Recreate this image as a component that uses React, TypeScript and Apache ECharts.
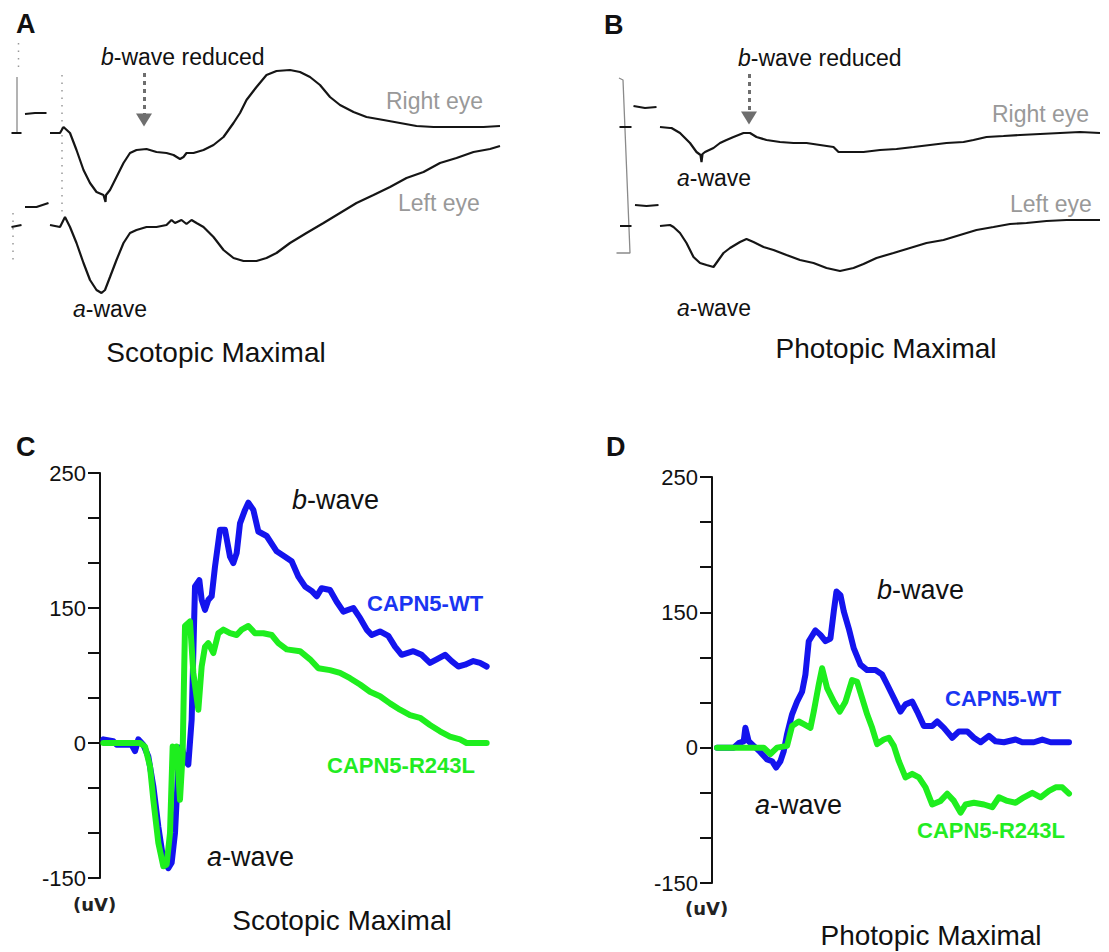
import React, { useEffect, useRef } from 'react';
import * as echarts from 'echarts';

const FONT = '"Liberation Sans", Arial, Helvetica, sans-serif';
const BLUE = '#1414ee';
const GREEN = '#1eee1e';
const BLUE_TXT = '#1a35f2';
const GREEN_TXT = '#22ec22';

// ---------- Panel A (scanned ERG, scotopic): [time ms, amplitude a.u.] ----------
const aRightEye: (number | null)[][] = [
  [0.3, 187], [2.3, 187], [2.4, null],
  [3, 206], [5, 207], [7.3, 207], [7.5, null],
  [8, 187], [10, 187], [10.7, 193], [12, 187], [13.3, 170], [14.7, 150], [16, 137], [17.3, 128],
  [18.7, 125], [19.1, 118], [19.2, 125], [20, 130], [21.3, 143], [22.7, 157], [24, 167],
  [25.3, 170], [27.3, 171], [29.3, 168], [31.3, 167], [32.7, 165], [34, 161], [34.7, 163],
  [35.3, 167], [36.7, 167], [38.7, 170], [40.7, 175], [42.7, 183], [44.7, 197], [46, 207],
  [47.3, 220], [49.3, 233], [51.3, 245], [53.3, 249], [56, 250], [58, 248], [60, 243],
  [62, 235], [64, 223], [66, 215], [68.7, 208], [71.3, 203], [74.7, 200], [78, 197],
  [81.3, 194], [84.7, 193], [88, 193], [91.3, 193], [94.7, 193], [98, 194]
];
const aLeftEye: (number | null)[][] = [
  [0.3, 93], [2.3, 95], [2.4, null],
  [3, 113], [5.3, 113], [7.7, 117], [7.8, null],
  [8, 95], [10, 93], [11, 103], [12, 93], [13.3, 77], [14.7, 57], [16, 40], [17.3, 30],
  [18.3, 27], [19, 30], [20, 43], [21.3, 60], [22.7, 77], [24, 87], [25.3, 90], [27.3, 93],
  [29.3, 93], [31.3, 95], [32.3, 100], [33, 97], [34.3, 100], [35.3, 96], [36.3, 100],
  [37.3, 97], [38.7, 93], [40.7, 83], [42.7, 70], [44.7, 62], [46.7, 59], [49.3, 59],
  [51.3, 62], [53.3, 67], [56, 77], [59.3, 87], [62.7, 97], [66, 107], [69.3, 117],
  [72.7, 125], [76, 133], [79.3, 142], [82.7, 148], [86, 157], [89.3, 162], [92.7, 168],
  [96, 171], [98, 174]
];
const aCalibration = [[1.4, 243], [1.4, 188]];
const aDots1 = [[1.7, 277], [1.7, 247]];
const aDots2 = [[10.4, 245], [10.4, 107]];
const aDots3 = [[0.6, 107], [0.6, 55]];

// ---------- Panel B (scanned ERG, photopic) ----------
const bRightEye: (number | null)[][] = [
  [6.9, 193], [9.3, 193], [9.5, null],
  [9.7, 214], [12, 212], [14.3, 213], [14.5, null],
  [15, 193], [17, 192], [17.3, 192], [19, 187], [21, 177], [22.3, 168], [23.1, 165],
  [23.3, 158], [23.5, 166], [24, 168], [25.7, 172], [27, 177], [28.3, 180], [29.7, 183],
  [31.7, 187], [33, 187], [34.3, 183], [36.3, 180], [39, 178], [41.7, 177], [44.3, 177],
  [47, 175], [49.7, 173], [50.7, 168], [52.3, 168], [55.7, 168], [59, 170], [62.3, 171],
  [65.7, 173], [69, 175], [72.3, 177], [75.7, 178], [77.7, 180], [80.3, 183], [83.7, 184],
  [87, 185], [91, 186], [95, 187], [99, 188], [103, 187]
];
const bLeftEye: (number | null)[][] = [
  [7, 94], [9.3, 94], [9.5, null],
  [10, 115], [12.3, 114], [14.7, 115], [14.8, null],
  [15, 94], [17, 95], [17.7, 93], [19, 87], [20.3, 77], [21.7, 63], [23, 57], [24.3, 55],
  [25.7, 53], [26.7, 60], [27.7, 67], [29, 72], [31, 78], [32.3, 81], [33.7, 78],
  [35.7, 73], [37.7, 70], [40.3, 65], [43, 60], [45.7, 57], [48.3, 52], [51, 49],
  [53.7, 52], [55.7, 56], [58.3, 62], [61.7, 67], [65, 72], [68.3, 77], [71.7, 80],
  [75, 85], [78.3, 90], [81.7, 93], [85, 96], [88.3, 97], [92.3, 99], [96.3, 100], [103, 100]
];
const bCalibration = [[6.3, 67], [9, 67], [7.6, 240], [6.8, 242]];

// ---------- Panel C (scotopic maximal, uV) ----------
const cWT = [
  [1, 4], [4, 2], [5, -2], [9.5, -2], [10.5, -9], [11.5, 4], [13, -2], [14.5, -15], [16, -48],
  [17.5, -93], [19, -130], [20.5, -139], [21.5, -133], [22.5, -100], [23.5, -26], [24.5, -4],
  [25.5, -19], [26.5, -24], [27.5, 26], [28.5, 174], [29.8, 181], [30.5, 159], [31.5, 148],
  [32.5, 159], [33.5, 163], [34.5, 196], [36, 237], [37.5, 237], [39, 207], [40, 200],
  [41, 211], [42, 244], [43.5, 259], [44.5, 267], [46, 259], [47.5, 235], [50, 230],
  [53, 213], [55.5, 207], [57.5, 202], [59.5, 185], [61.5, 174], [63.5, 169], [65, 163],
  [66.5, 172], [69, 170], [71, 157], [73, 146], [76, 150], [78, 139], [80, 126], [81.5, 120],
  [84, 124], [86.5, 119], [88.5, 107], [90.5, 98], [94, 102], [96.5, 98], [99, 89],
  [101, 93], [103.5, 98], [105.5, 91], [107.5, 85], [109.5, 87], [112, 91], [114, 89], [116, 85]
];
const cR243L = [
  [1, 0], [12, 0], [13.5, -4], [15, -26], [16, -63], [17.5, -111], [19, -137], [20, -135],
  [21, -100], [21.8, -4], [22.5, -26], [23, -4], [24, -63], [24.8, -11], [25.5, 130],
  [27, 135], [28, 78], [29.5, 37], [30.5, 85], [31.5, 107], [32.5, 111], [34, 100],
  [35.5, 122], [37, 126], [39, 122], [41, 120], [42.5, 126], [44.5, 130], [46.5, 122],
  [49, 122], [51.5, 120], [53.5, 111], [56, 104], [60, 102], [63, 93], [65.5, 83], [69, 81],
  [72, 78], [75, 72], [78, 65], [81, 57], [84, 52], [87, 44], [90, 37], [93, 31], [96, 28],
  [99, 20], [102, 13], [105, 7], [108, 4], [110, 0], [116, 0]
];

// ---------- Panel D (photopic maximal, uV) ----------
const dWT = [
  [1.5, 0], [6.5, 0], [8, 5], [9.5, 7], [10, 22], [11, 7], [12.5, 2], [14.5, -5], [16.5, -13],
  [18, -15], [19.2, -22], [20.5, -15], [21.5, -4], [22.5, 15], [24, 37], [25.5, 51], [27, 62],
  [28, 81], [29, 118], [31, 130], [32.5, 125], [34, 118], [35.5, 121], [36.5, 151],
  [37.3, 173], [38.5, 169], [39.5, 151], [41, 132], [42.5, 110], [44.5, 92], [46.5, 86],
  [49, 86], [51, 81], [52.5, 70], [54.5, 55], [56.5, 40], [58, 48], [60, 51], [61.5, 40],
  [63.5, 24], [66, 24], [67.5, 29], [69.5, 22], [72, 11], [74, 18], [76.5, 18], [78.5, 11],
  [80.5, 6], [83, 13], [85, 7], [87.5, 6], [91, 9], [93, 6], [96.5, 6], [99, 9], [101.5, 6], [107, 6]
];
const dR243L = [
  [1.5, 0], [8.5, 0], [15.5, 0], [17.5, -7], [19.5, 0], [22.5, 2], [24, 24], [26, 29],
  [27.5, 26], [29.5, 22], [30.5, 40], [32, 70], [33, 88], [34.5, 66], [36.5, 51], [38.3, 40],
  [40, 51], [42, 75], [43.5, 73], [45, 55], [46.5, 37], [48, 22], [49.5, 4], [51.5, 9],
  [53, 11], [54.5, 2], [56, -15], [58, -33], [60, -29], [62, -33], [64, -44], [66, -63],
  [68.5, -59], [70.5, -51], [72.5, -59], [74.5, -72], [76, -63], [78.5, -61], [81.5, -63],
  [84, -66], [86, -55], [88.5, -59], [91, -61], [93.5, -55], [96, -50], [98.5, -55],
  [101, -48], [103, -44], [105, -44], [107, -51]
];

// Tick labels as printed on the figure's y axes (position -> printed label)
const tickValues = [300, 150, 0, -150];
const tickLabels = ['250', '150', '0', '-150'];

const panelLetters = ['A', 'B', 'C', 'D'];
const seriesNames = ['CAPN5-WT', 'CAPN5-R243L'];

function txt(x: number, y: number, text: string, o: any = {}) {
  return {
    type: 'text',
    x,
    y,
    silent: true,
    style: {
      text,
      fontFamily: o.family || FONT,
      fontSize: o.size || 23,
      fontWeight: o.weight || 'normal',
      fill: o.color || '#111',
      align: o.align || 'left',
      verticalAlign: 'middle',
      rich: o.rich,
    },
  };
}

function italicFirst(x: number, y: number, text: string, size: number, align = 'left') {
  return txt(x, y, text, {
    size,
    align,
    rich: {
      i: { fontStyle: 'italic', fontFamily: FONT, fontSize: size, fill: '#111' },
      n: { fontFamily: FONT, fontSize: size, fill: '#111' },
    },
  });
}

function App() {
  const ref = useRef<HTMLDivElement>(null);
  useEffect(() => {
    if (!ref.current) return;
    const chart = echarts.init(ref.current, undefined, { renderer: 'svg' });

    const traceStyle = { color: '#151515', width: 2.2 };
    const scanLine = (data: any, xi: number, extra: any = {}) => ({
      type: 'line', data, xAxisIndex: xi, yAxisIndex: xi, symbol: 'none', silent: true,
      connectNulls: false, lineStyle: traceStyle, ...extra,
    });
    const dotLine = (data: any, xi: number) => ({
      type: 'line', data, xAxisIndex: xi, yAxisIndex: xi, symbol: 'none', silent: true,
      lineStyle: { color: '#999', width: 1.5, type: [1.5, 6] },
    });
    const arrowMark = (t: number, a0: number, a1: number) => ({
      silent: true,
      symbol: ['none', 'triangle'],
      symbolSize: [16, 13],
      label: { show: false },
      lineStyle: { type: [4, 4], color: '#6e6e6e', width: 3 },
      itemStyle: { color: '#6e6e6e' },
      data: [[{ coord: [t, a0] }, { coord: [t, a1] }]],
    });

    const yLabelFmt = (v: number) => {
      const i = tickValues.indexOf(v);
      return i >= 0 ? tickLabels[i] : '';
    };
    const ergY = (gi: number) => ({
      type: 'value', gridIndex: gi, min: -150, max: 300, interval: 50,
      axisLine: { show: true, lineStyle: { color: '#111', width: 2 } },
      axisTick: { show: true, length: 12, lineStyle: { color: '#111', width: 2 } },
      splitLine: { show: false },
      axisLabel: { formatter: yLabelFmt, fontSize: 22, color: '#111', fontFamily: FONT, margin: 14 },
    });
    const thick = (data: any, gi: number, color: string, name: string) => ({
      type: 'line', name, data, xAxisIndex: gi, yAxisIndex: gi, symbol: 'none', silent: true,
      lineStyle: { color, width: 6, join: 'round', cap: 'round' },
    });

    chart.setOption({
      animation: false,
      backgroundColor: '#ffffff',
      grid: [
        { left: 10, top: 40, width: 500, height: 280 },
        { left: 585, top: 40, width: 520, height: 280 },
        { left: 100, top: 473, width: 390, height: 405 },
        { left: 712, top: 477, width: 367, height: 406 },
      ],
      xAxis: [
        { type: 'value', gridIndex: 0, min: 0, max: 100, show: false },
        { type: 'value', gridIndex: 1, min: 0, max: 104, show: false },
        { type: 'value', gridIndex: 2, min: 0, max: 117, show: false },
        { type: 'value', gridIndex: 3, min: 0, max: 110, show: false },
      ],
      yAxis: [
        { type: 'value', gridIndex: 0, min: 0, max: 280, show: false },
        { type: 'value', gridIndex: 1, min: 0, max: 280, show: false },
        ergY(2),
        ergY(3),
      ],
      series: [
        scanLine(aCalibration, 0, { lineStyle: { color: '#8a8a8a', width: 1.3 } }),
        dotLine(aDots1, 0),
        dotLine(aDots2, 0),
        dotLine(aDots3, 0),
        scanLine(aRightEye, 0, { markLine: arrowMark(26.8, 247, 200) }),
        scanLine(aLeftEye, 0),
        scanLine(bCalibration, 1, { lineStyle: { color: '#8a8a8a', width: 1.3 } }),
        scanLine(bRightEye, 1, { markLine: arrowMark(32.8, 246, 202) }),
        scanLine(bLeftEye, 1),
        thick(cWT, 2, BLUE, seriesNames[0]),
        thick(cR243L, 2, GREEN, seriesNames[1]),
        thick(dWT, 3, BLUE, seriesNames[0]),
        thick(dR243L, 3, GREEN, seriesNames[1]),
      ],
      graphic: [
        txt(16, 24, panelLetters[0], { size: 27, weight: 'bold' }),
        txt(604, 25, panelLetters[1], { size: 27, weight: 'bold' }),
        txt(16, 447, panelLetters[2], { size: 27, weight: 'bold' }),
        txt(606, 447, panelLetters[3], { size: 27, weight: 'bold' }),

        italicFirst(101, 57, '{i|b}{n|-wave reduced}', 23),
        txt(386, 101, 'Right eye', { color: '#999' }),
        txt(398, 203, 'Left eye', { color: '#999' }),
        italicFirst(73, 309, '{i|a}{n|-wave}', 23),
        txt(216, 352, 'Scotopic Maximal', { size: 28, align: 'center' }),

        italicFirst(738, 58, '{i|b}{n|-wave reduced}', 23),
        txt(992, 114, 'Right eye', { color: '#999' }),
        italicFirst(677, 178, '{i|a}{n|-wave}', 23),
        txt(1010, 204, 'Left eye', { color: '#999' }),
        italicFirst(677, 308, '{i|a}{n|-wave}', 23),
        txt(886, 348, 'Photopic Maximal', { size: 28, align: 'center' }),

        italicFirst(292, 500, '{i|b}{n|-wave}', 27),
        txt(367, 603, seriesNames[0], { size: 22, weight: 'bold', color: BLUE_TXT }),
        txt(327, 765, seriesNames[1], { size: 22, weight: 'bold', color: GREEN_TXT }),
        italicFirst(207, 857, '{i|a}{n|-wave}', 27),
        txt(73, 904, '(uV)', { size: 18, weight: 'bold', color: '#222', family: '"DejaVu Sans", sans-serif' }),
        txt(342, 920, 'Scotopic Maximal', { size: 28, align: 'center' }),

        italicFirst(877, 590, '{i|b}{n|-wave}', 27),
        txt(945, 698, seriesNames[0], { size: 22, weight: 'bold', color: BLUE_TXT }),
        italicFirst(755, 805, '{i|a}{n|-wave}', 27),
        txt(917, 830, seriesNames[1], { size: 22, weight: 'bold', color: GREEN_TXT }),
        txt(685, 908, '(uV)', { size: 18, weight: 'bold', color: '#222', family: '"DejaVu Sans", sans-serif' }),
        txt(931, 935, 'Photopic Maximal', { size: 28, align: 'center' }),
      ],
    });
    return () => chart.dispose();
  }, []);
  return (
    <div
      ref={ref}
      style={{ position: 'absolute', left: 0, top: 0, width: 1109, height: 952, background: '#fff' }}
    />
  );
}

export default App;
